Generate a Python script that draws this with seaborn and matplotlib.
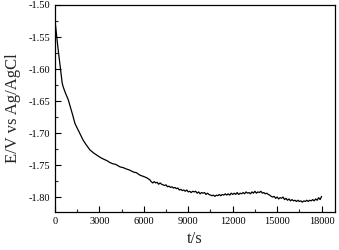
# Open circuit potential vs time
import pandas as pd
import matplotlib
matplotlib.use("Agg")
import matplotlib.pyplot as plt
import seaborn as sns
from matplotlib.ticker import MultipleLocator

# values
# fast decay at the start
t_early = [0, 100, 200, 300, 400, 490, 560, 700, 900, 1050, 1200, 1350, 1500,
           1700, 1900, 2100, 2350, 2600, 2850, 3050, 3300, 3500, 3700, 3900,
           4100, 4400, 4600, 4800, 5050, 5300, 5500, 5750, 6000, 6200, 6400]
e_early = [-1.523, -1.545, -1.566, -1.585, -1.605, -1.622, -1.628, -1.637,
           -1.648, -1.660, -1.672, -1.685, -1.692, -1.701, -1.711, -1.718,
           -1.726, -1.731, -1.735, -1.738, -1.741, -1.743, -1.746, -1.748,
           -1.749, -1.753, -1.754, -1.756, -1.758, -1.761, -1.762, -1.766,
           -1.768, -1.770, -1.773]
# noisy plateau
t_late = [6500, 6600, 6700, 6800, 6900, 7000, 7100, 7200, 7300, 7400,
          7500, 7600, 7700, 7800, 7900, 8000, 8100, 8200, 8300, 8400,
          8500, 8600, 8700, 8800, 8900, 9000, 9100, 9200, 9300, 9400,
          9500, 9600, 9700, 9800, 9900, 10000, 10100, 10200, 10300, 10400,
          10500, 10600, 10700, 10800, 10900, 11000, 11100, 11200, 11300, 11400,
          11500, 11600, 11700, 11800, 11900, 12000, 12100, 12200, 12300, 12400,
          12500, 12600, 12700, 12800, 12900, 13000, 13100, 13200, 13300, 13400,
          13500, 13600, 13700, 13800, 13900, 14000, 14100, 14200, 14300, 14400,
          14500, 14600, 14700, 14800, 14900, 15000, 15100, 15200, 15300, 15400,
          15500, 15600, 15700, 15800, 15900, 16000, 16100, 16200, 16300, 16400,
          16500, 16600, 16700, 16800, 16900, 17000, 17100, 17200, 17300, 17400,
          17500, 17600, 17700, 17800, 17900, 18000]
e_late = [-1.776, -1.778, -1.776, -1.778, -1.777, -1.780, -1.778, -1.780, -1.781, -1.782,
          -1.781, -1.784, -1.783, -1.785, -1.784, -1.786, -1.785, -1.787, -1.786, -1.789,
          -1.788, -1.790, -1.789, -1.791, -1.789, -1.792, -1.791, -1.793, -1.791, -1.792,
          -1.791, -1.794, -1.792, -1.795, -1.793, -1.794, -1.793, -1.796, -1.794, -1.796,
          -1.797, -1.798, -1.797, -1.799, -1.797, -1.798, -1.796, -1.798, -1.796, -1.797,
          -1.795, -1.797, -1.795, -1.797, -1.794, -1.796, -1.794, -1.796, -1.793, -1.796,
          -1.794, -1.795, -1.793, -1.795, -1.792, -1.794, -1.793, -1.795, -1.792, -1.794,
          -1.791, -1.794, -1.792, -1.793, -1.791, -1.794, -1.793, -1.795, -1.794, -1.796,
          -1.797, -1.799, -1.800, -1.799, -1.802, -1.800, -1.803, -1.801, -1.802, -1.800,
          -1.804, -1.802, -1.805, -1.803, -1.806, -1.804, -1.806, -1.805, -1.807, -1.805,
          -1.807, -1.806, -1.808, -1.806, -1.807, -1.805, -1.807, -1.805, -1.806, -1.804,
          -1.806, -1.803, -1.805, -1.801, -1.804, -1.799]
x_ticks = [0, 3000, 6000, 9000, 12000, 15000, 18000]
y_ticks = [-1.80, -1.75, -1.70, -1.65, -1.60, -1.55, -1.50]

df = pd.DataFrame({"t": t_early + t_late, "E": e_early + e_late})

sns.set_style("ticks")
plt.rcParams["font.family"] = ["Liberation Serif", "DejaVu Serif"]

fig = plt.figure(figsize=(3.39, 2.5), dpi=100)
ax = fig.add_axes([0.162, 0.152, 0.826, 0.828])
sns.lineplot(data=df, x="t", y="E", color="black", lw=0.9, estimator=None, ax=ax)

ax.set_xlim(0, 18900)
ax.set_ylim(-1.8234, -1.50)
ax.set_xticks(x_ticks)
ax.set_yticks(y_ticks)
ax.set_yticklabels([f"{v:.2f}" for v in y_ticks])
ax.xaxis.set_minor_locator(MultipleLocator(1500))
ax.yaxis.set_minor_locator(MultipleLocator(0.025))
ax.tick_params(which="major", direction="in", length=4, width=0.8, labelsize=7.5, colors="black")
ax.tick_params(which="minor", direction="in", length=2, width=0.8)
for s in ax.spines.values():
    s.set_linewidth(0.9)
    s.set_color("black")

ax.set_xlabel("t/s", fontsize=12, labelpad=4)
ax.set_ylabel("E/V vs Ag/AgCl", fontsize=12, labelpad=5)

fig.savefig("out.png", dpi=100)
